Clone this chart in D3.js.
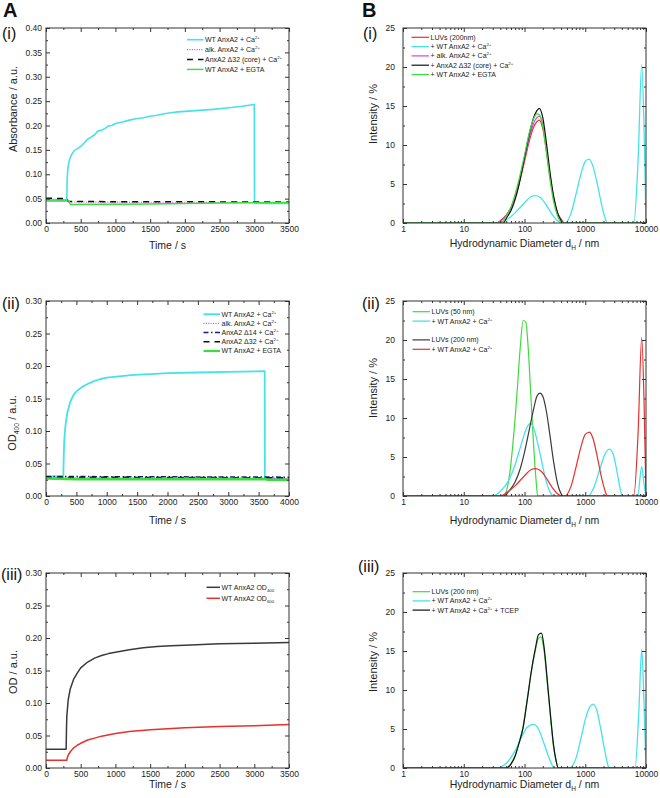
<!DOCTYPE html>
<html><head><meta charset="utf-8">
<script src="https://cdn.jsdelivr.net/npm/d3@7"></script>
<style>body{margin:0;background:#fff;} svg{display:block;font-family:Arial,"Liberation Sans",sans-serif;}</style>
</head><body><svg id="c" width="660" height="798"></svg>
<script>
// ---------- DATA ----------
// Panel A(i): time (s) vs absorbance
const a1Cyan = [[0,0.048],[150,0.048],[300,0.047],[305,0.09],[315,0.112],[330,0.125],[350,0.135],[380,0.143],[410,0.149],[450,0.152],[500,0.157],[550,0.164],[600,0.172],[650,0.176],[700,0.181],[750,0.189],[800,0.19],[850,0.194],[900,0.199],[950,0.2],[1000,0.204],[1100,0.207],[1200,0.211],[1300,0.214],[1400,0.216],[1500,0.219],[1600,0.221],[1700,0.224],[1800,0.226],[1900,0.228],[2000,0.229],[2200,0.231],[2400,0.233],[2600,0.236],[2800,0.239],[3000,0.243],[3003,0.041],[3200,0.040],[3500,0.040]];
const a1Alk = [[0,0.047],[300,0.047],[320,0.043],[3500,0.042]];
const a1Core = [[0,0.051],[300,0.050],[320,0.044],[3500,0.043]];
const a1Egta = [[0,0.045],[330,0.045],[350,0.038],[1500,0.039],[2500,0.041],[3500,0.042]];
// Panel A(ii)
const a2Cyan = [[0,0.030],[285,0.030],[292,0.06],[300,0.085],[320,0.108],[350,0.128],[400,0.145],[450,0.155],[500,0.161],[600,0.168],[700,0.173],[800,0.177],[900,0.180],[1000,0.182],[1200,0.184],[1400,0.186],[1600,0.187],[1800,0.188],[2000,0.189],[2500,0.190],[3000,0.191],[3600,0.192],[3603,0.027],[4000,0.026]];
const a2Alk = [[0,0.028],[4000,0.027]];
const a2D14 = [[0,0.030],[4000,0.029]];
const a2D32 = [[0,0.029],[4000,0.028]];
const a2Egta = [[0,0.027],[500,0.026],[3600,0.026],[3650,0.025],[4000,0.025]];
// Panel A(iii)
const a3Od400 = [[0,0.029],[290,0.029],[295,0.06],[300,0.08],[320,0.105],[350,0.122],[400,0.137],[450,0.146],[500,0.154],[600,0.163],[700,0.169],[800,0.173],[900,0.176],[1000,0.178],[1200,0.182],[1400,0.185],[1600,0.187],[1800,0.188],[2000,0.189],[2500,0.191],[3000,0.192],[3500,0.193]];
const a3Od600 = [[0,0.012],[300,0.012],[305,0.015],[320,0.02],[350,0.025],[400,0.031],[450,0.035],[500,0.038],[600,0.043],[700,0.046],[800,0.049],[1000,0.053],[1200,0.056],[1500,0.059],[2000,0.062],[2500,0.064],[3000,0.065],[3500,0.067]];
// Panel B(i): hydrodynamic diameter (nm) vs intensity (%)
const b1Luv = [[1,0],[35,0],[40,0.3],[50,1.0],[60,2.0],[70,3.3],[80,4.8],[90,6.4],[100,7.9],[120,10.5],[140,12.2],[160,13.0],[175,13.2],[200,12.1],[230,9.2],[260,6.2],[300,3.3],[350,1.3],[400,0.5],[450,0],[10000,0]];
const b1Wt = [[1,0],[35,0],[50,0.4],[70,1.3],[100,2.6],[130,3.4],[150,3.5],[180,3.3],[220,2.5],[280,1.2],[350,0.3],[440,0],[470,0],[580,1.2],[700,3.6],[850,6.3],[1000,7.9],[1150,8.2],[1350,7.2],[1600,4.8],[1900,2.0],[2200,0.3],[2350,0],[6300,0],[7400,8],[8500,20.3],[9300,12],[10000,0]];
const b1Alk = [[1,0],[35,0],[40,0.2],[50,0.9],[60,1.9],[70,3.3],[80,4.9],[90,6.6],[100,8.2],[120,10.9],[140,12.7],[160,13.5],[175,13.7],[200,12.6],[230,9.5],[260,6.4],[300,3.4],[350,1.3],[400,0.4],[450,0],[10000,0]];
const b1Core = [[1,0],[45,0],[50,0.6],[60,1.6],[70,3.0],[80,4.7],[90,6.6],[100,8.4],[120,11.4],[140,13.4],[160,14.4],[175,14.7],[200,13.5],[230,10.2],[260,6.8],[300,3.5],[350,1.3],[400,0.3],[430,0],[10000,0]];
const b1Egta = [[1,0],[40,0],[45,0.2],[50,0.9],[60,2.1],[70,3.7],[80,5.4],[90,7.1],[100,8.7],[120,11.6],[140,13.3],[160,14.0],[175,13.9],[200,12.4],[230,9.0],[260,5.8],[300,2.8],[350,0.9],[400,0.1],[430,0],[10000,0]];
// Panel B(ii)
const b2Luv50 = [[1,0],[45,0],[55,2],[65,7],[75,13],[85,19],[95,22.5],[105,22.3],[115,19],[125,14],[140,7],[155,2],[165,0],[10000,0]];
const b2Wt50 = [[1,0],[30,0],[40,0.6],[55,2.0],[70,4.0],[85,6.2],[100,8.0],[115,9.1],[125,9.3],[140,8.8],[160,7.2],[190,4.6],[220,2.3],[260,0.6],[295,0],[1100,0],[1400,1.2],[1700,3.2],[2100,5.3],[2500,6.0],[2900,5.3],[3300,3.3],[3700,1.2],[4100,0],[7300,0],[8500,3.8],[9300,1.5],[10000,0]];
const b2Luv200 = [[1,0],[45,0],[55,0.6],[70,1.8],[85,3.5],[100,5.6],[120,8.5],[140,11.0],[160,12.8],[180,13.2],[200,12.8],[230,10.8],[260,8.0],[300,4.5],[350,1.6],[400,0.3],[430,0],[10000,0]];
const b2Wt200 = [[1,0],[40,0],[50,0.4],[70,1.3],[100,2.6],[130,3.4],[150,3.5],[180,3.3],[220,2.5],[280,1.2],[350,0.3],[430,0],[460,0],[580,1.2],[700,3.6],[850,6.3],[1000,7.9],[1180,8.2],[1350,7.3],[1600,4.8],[1900,2.0],[2200,0.3],[2300,0],[6300,0],[7400,8],[8500,20.3],[9300,12],[10000,0]];
// Panel B(iii)
const b3Luv = [[1,0],[48,0],[60,0.6],[70,1.6],[80,3.1],[95,5.3],[110,8.6],[130,12.4],[150,15.0],[170,16.6],[185,16.8],[210,15.0],[240,10.5],[270,6.2],[300,2.8],[330,0.9],[360,0],[10000,0]];
const b3Wt = [[1,0],[35,0],[50,0.6],[70,2.2],[90,4.0],[110,5.2],[140,5.6],[170,5.0],[200,3.6],[240,1.8],[280,0.5],[310,0],[550,0],[700,1.2],[850,3.8],[1000,6.2],[1200,7.9],[1350,8.2],[1550,7.4],[1800,5.0],[2100,2.2],[2400,0.2],[2500,0],[6600,0],[7600,7],[8500,15.2],[9300,8],[10000,0]];
const b3Tcep = [[1,0],[50,0],[60,0.5],[70,1.5],[80,3.0],[95,5.2],[110,8.5],[130,12.5],[150,15.2],[170,17.1],[190,17.3],[210,15.5],[240,10.8],[270,6.5],[300,3.0],[330,1.0],[360,0],[10000,0]];

const timeTicksA1 = [0,500,1000,1500,2000,2500,3000,3500];
const timeTicksA2 = [0,500,1000,1500,2000,2500,3000,3500,4000];
const odTicks040 = [0,0.05,0.10,0.15,0.20,0.25,0.30,0.35,0.40];
const odTicks030 = [0,0.05,0.10,0.15,0.20,0.25,0.30];
const dTicks = [1,10,100,1000,10000];
const intTicks = [0,5,10,15,20,25];

// ---------- STYLES ----------
const C = {cyan:"#46e2ea", mag:"#e040e0", blk:"#111111", grn:"#3ddc3d", red:"#e8302c", navy:"#1a1a8a", gray:"#3a3a3a"};

const svg = d3.select("#c");
const AX = "#333";

function rich(t, str, fs){
  const parts = str.split(/(\^\{[^}]*\}|_\{[^}]*\})/).filter(s=>s.length);
  let shift = 0;
  parts.forEach(p=>{
    let target = 0, txt = p, size = fs;
    if (p[0]==="^"){ txt=p.slice(2,-1); target=-fs*0.42; size=fs*0.62; }
    else if (p[0]==="_"){ txt=p.slice(2,-1); target=fs*0.3; size=fs*0.62; }
    t.append("tspan").attr("dy", target-shift).attr("font-size", size).text(txt);
    shift = target;
  });
}

function panel(cfg){
  const {x0,x1,y0,y1} = cfg;
  const x = cfg.log ? d3.scaleLog().domain(cfg.xDomain).range([x0,x1]) : d3.scaleLinear().domain(cfg.xDomain).range([x0,x1]);
  const y = d3.scaleLinear().domain(cfg.yDomain).range([y1,y0]);
  const cid = "clip-"+cfg.id;
  svg.append("clipPath").attr("id",cid).append("rect").attr("x",x0).attr("y",y0).attr("width",x1-x0).attr("height",y1-y0);
  const gl = svg.append("g").attr("clip-path",`url(#${cid})`);
  const line = d3.line().x(d=>x(d[0])).y(d=>y(d[1])).curve(cfg.log ? d3.curveMonotoneX : d3.curveLinear);
  cfg.series.forEach(s=>{
    gl.append("path").datum(s.data).attr("fill","none").attr("stroke",s.color)
      .attr("stroke-width",s.w).attr("stroke-dasharray",s.dash||null)
      .attr("stroke-linejoin","round").attr("d",line);
  });
  // frame
  svg.append("rect").attr("x",x0).attr("y",y0).attr("width",x1-x0).attr("height",y1-y0)
    .attr("fill","none").attr("stroke",AX).attr("stroke-width",1);
  const style = g=>{ g.select(".domain").remove(); g.selectAll("line").attr("stroke",AX);
    g.selectAll("text").attr("font-size",8.5).attr("fill","#222").attr("font-family","Arial, 'Liberation Sans', sans-serif"); };
  let xMinor;
  if (cfg.log){ xMinor=[]; [1,10,100,1000].forEach(k=>{for(let m=2;m<10;m++) xMinor.push(m*k);}); }
  else xMinor = cfg.xTicks.slice(0,-1).map((v,i)=>(v+cfg.xTicks[i+1])/2);
  const yMinor = cfg.yTicks.slice(0,-1).map((v,i)=>(v+cfg.yTicks[i+1])/2);
  const xf = cfg.log ? (d=>String(d)) : d3.format("d");
  const yf = cfg.log ? d3.format("d") : d3.format(".2f");
  svg.append("g").attr("transform",`translate(0,${y1})`).call(d3.axisBottom(x).tickValues(cfg.xTicks).tickSize(-4).tickSizeOuter(0).tickPadding(3.3).tickFormat(xf)).call(style);
  svg.append("g").attr("transform",`translate(0,${y1})`).call(d3.axisBottom(x).tickValues(xMinor).tickSize(-2).tickFormat("")).call(style);
  svg.append("g").attr("transform",`translate(0,${y0})`).call(d3.axisTop(x).tickValues(cfg.xTicks).tickSize(-4).tickFormat("")).call(style);
  svg.append("g").attr("transform",`translate(0,${y0})`).call(d3.axisTop(x).tickValues(xMinor).tickSize(-2).tickFormat("")).call(style);
  svg.append("g").attr("transform",`translate(${x0},0)`).call(d3.axisLeft(y).tickValues(cfg.yTicks).tickSize(-4).tickPadding(cfg.log?8:4).tickFormat(yf)).call(style);
  svg.append("g").attr("transform",`translate(${x0},0)`).call(d3.axisLeft(y).tickValues(yMinor).tickSize(-2).tickFormat("")).call(style);
  svg.append("g").attr("transform",`translate(${x1},0)`).call(d3.axisRight(y).tickValues(cfg.yTicks).tickSize(-4).tickFormat("")).call(style);
  svg.append("g").attr("transform",`translate(${x1},0)`).call(d3.axisRight(y).tickValues(yMinor).tickSize(-2).tickFormat("")).call(style);
  // axis labels
  const xl = svg.append("text").attr("x",(x0+x1)/2).attr("y",cfg.xly).attr("text-anchor","middle").attr("font-size",10.5).attr("fill","#222");
  rich(xl, cfg.xlabel, 10.5);
  const yl = svg.append("text").attr("transform",`translate(${cfg.ylx},${cfg.yly}) rotate(-90)`).attr("text-anchor","middle").attr("font-size",11).attr("fill","#222");
  rich(yl, cfg.ylabel, 11);
  svg.append("text").attr("x",cfg.tagx).attr("y",cfg.tagy).attr("font-size",16).attr("fill","#111").text(cfg.tag);
  // legend
  const L = cfg.legend;
  cfg.series.forEach(s=>{
    const yy = L.y + s.row*L.dy;
    svg.append("line").attr("x1",L.x1).attr("x2",L.x2).attr("y1",yy).attr("y2",yy)
      .attr("stroke",s.color).attr("stroke-width",Math.min(s.w,2.2)).attr("stroke-dasharray",s.dash||null);
    const t = svg.append("text").attr("x",L.x2+1.5).attr("y",yy+2.4).attr("font-size",7).attr("fill","#222");
    rich(t, s.name, 7);
  });
}

const A = {x0:46,x1:289}, B = {x0:403,x1:646};
const R1 = {y0:28,y1:223}, R2 = {y0:301,y1:496}, R3 = {y0:573,y1:768};

panel({id:"a1",...A,...R1,xDomain:[0,3500],yDomain:[0,0.4],xTicks:timeTicksA1,yTicks:odTicks040,
  xlabel:"Time / s",xly:249,ylabel:"Absorbance / a.u.",ylx:16.5,yly:109,tag:"(i)",tagx:2,tagy:39,
  legend:{x1:187,x2:203.5,y:39.7,dy:9.9},
  series:[
    {name:"WT AnxA2 + Ca^{2+}",data:a1Cyan,color:C.cyan,w:1.6,row:0},
    {name:"alk. AnxA2 + Ca^{2+}",data:a1Alk,color:C.mag,w:1.1,dash:"1,1.4",row:1},
    {name:"AnxA2 Δ32 (core) + Ca^{2+}",data:a1Core,color:C.blk,w:1.5,dash:"6,5",row:2},
    {name:"WT AnxA2 + EGTA",data:a1Egta,color:C.grn,w:1.4,row:3}
  ]});
panel({id:"a2",...A,...R2,xDomain:[0,4000],yDomain:[0,0.3],xTicks:timeTicksA2,yTicks:odTicks030,
  xlabel:"Time / s",xly:524,ylabel:"OD_{400} / a.u.",ylx:15.5,yly:423,tag:"(ii)",tagx:2,tagy:309,
  legend:{x1:203.5,x2:220,y:314.2,dy:9.2},
  series:[
    {name:"WT AnxA2 + Ca^{2+}",data:a2Cyan,color:C.cyan,w:1.8,row:0},
    {name:"alk. AnxA2 + Ca^{2+}",data:a2Alk,color:C.mag,w:1.1,dash:"1,1.4",row:1},
    {name:"AnxA2 Δ14 + Ca^{2+}",data:a2D14,color:C.navy,w:1.5,dash:"5,2.5,1.5,2.5",row:2},
    {name:"AnxA2 Δ32 + Ca^{2+}",data:a2D32,color:C.blk,w:1.5,dash:"6,5",row:3},
    {name:"WT AnxA2 + EGTA",data:a2Egta,color:C.grn,w:2.6,row:4}
  ]});
panel({id:"a3",...A,...R3,xDomain:[0,3500],yDomain:[0,0.3],xTicks:timeTicksA1,yTicks:odTicks030,
  xlabel:"Time / s",xly:788,ylabel:"OD / a.u.",ylx:16.5,yly:672,tag:"(iii)",tagx:1,tagy:580,
  legend:{x1:206.5,x2:220,y:587.3,dy:11},
  series:[
    {name:"WT AnxA2  OD_{400}",data:a3Od400,color:C.gray,w:1.5,row:0},
    {name:"WT AnxA2  OD_{600}",data:a3Od600,color:C.red,w:1.5,row:1}
  ]});
panel({id:"b1",...B,...R1,log:true,xDomain:[1,10000],yDomain:[0,25],xTicks:dTicks,yTicks:intTicks,
  xlabel:"Hydrodynamic Diameter d_{H} / nm",xly:247,ylabel:"Intensity / %",ylx:377,yly:114,tag:"(i)",tagx:363,tagy:39,
  legend:{x1:411.5,x2:429,y:37.3,dy:9.3},
  series:[
    {name:"LUVs (200nm)",data:b1Luv,color:C.red,w:1.2,row:0},
    {name:"+ WT AnxA2 + Ca^{2+}",data:b1Wt,color:C.cyan,w:1.3,row:1},
    {name:"+ alk. AnxA2 + Ca^{2+}",data:b1Alk,color:C.mag,w:1.2,row:2},
    {name:"+ AnxA2 Δ32 (core) + Ca^{2+}",data:b1Core,color:C.blk,w:1.2,row:3},
    {name:"+ WT AnxA2 + EGTA",data:b1Egta,color:C.grn,w:1.2,row:4}
  ]});
panel({id:"b2",...B,...R2,log:true,xDomain:[1,10000],yDomain:[0,25],xTicks:dTicks,yTicks:intTicks,
  xlabel:"Hydrodynamic Diameter d_{H} / nm",xly:524,ylabel:"Intensity / %",ylx:377,yly:388,tag:"(ii)",tagx:362,tagy:309,
  legend:{x1:412.5,x2:430,y:311.7,dy:9.4},
  series:[
    {name:"LUVs (50 nm)",data:b2Luv50,color:C.grn,w:1.2,row:0},
    {name:"+ WT AnxA2 + Ca^{2+}",data:b2Wt50,color:C.cyan,w:1.3,row:1},
    {name:"LUVs (200 nm)",data:b2Luv200,color:C.gray,w:1.2,row:3},
    {name:"+ WT AnxA2 + Ca^{2+}",data:b2Wt200,color:C.red,w:1.2,row:4}
  ]});
panel({id:"b3",...B,...R3,log:true,xDomain:[1,10000],yDomain:[0,25],xTicks:dTicks,yTicks:intTicks,
  xlabel:"Hydrodynamic Diameter d_{H} / nm",xly:788,ylabel:"Intensity / %",ylx:377,yly:662,tag:"(iii)",tagx:358,tagy:572,
  legend:{x1:412.5,x2:430,y:591.7,dy:9.2},
  series:[
    {name:"LUVs (200 nm)",data:b3Luv,color:C.grn,w:1.2,row:0},
    {name:"+ WT AnxA2 + Ca^{2+}",data:b3Wt,color:C.cyan,w:1.3,row:1},
    {name:"+ WT AnxA2 + Ca^{2+} + TCEP",data:b3Tcep,color:C.blk,w:1.2,row:2}
  ]});

svg.append("text").attr("x",3).attr("y",17).attr("font-size",20).attr("font-weight","bold").attr("fill","#111").text("A");
svg.append("text").attr("x",362).attr("y",17).attr("font-size",20).attr("font-weight","bold").attr("fill","#111").text("B");
</script>
</body></html>
